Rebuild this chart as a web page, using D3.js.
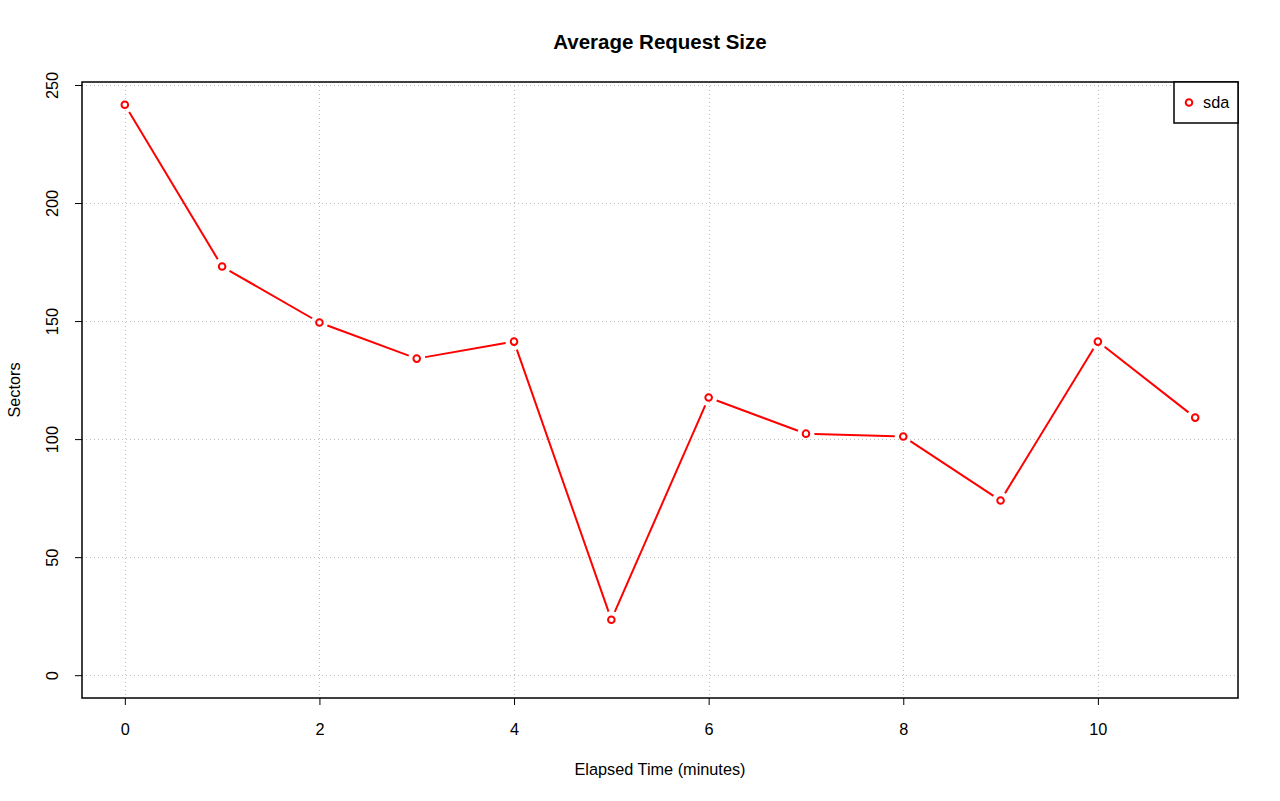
<!DOCTYPE html>
<html><head><meta charset="utf-8">
<script src="https://cdn.jsdelivr.net/npm/d3@7"></script>
<style>body{margin:0;background:#fff}svg{display:block}text{font-family:"Liberation Sans",Arial,sans-serif;fill:#000}</style>
</head><body>
<script>
const minutes = [0,1,2,3,4,5,6,7,8,9,10,11];
const sda = [241.6,173.1,149.4,134.1,141.3,23.5,117.6,102.3,101.1,74.0,141.3,109.1];
const xTicks = [0,2,4,6,8,10];
const yTicks = [0,50,100,150,200,250];
const seriesName = "sda";

const W=1280,H=801;
const L=82,R=1238,T=82,B=698;
const svg=d3.select("body").append("svg").attr("width",W).attr("height",H);
const x=d3.scaleLinear().domain([-0.44,11.44]).range([L,R]);
const yMax=d3.max(sda), pad=yMax*0.04;
const y=d3.scaleLinear().domain([-pad,yMax+pad]).range([B,T]);
const px=v=>Math.round(v)+0.5;

// grid
const g=svg.append("g").attr("shape-rendering","crispEdges");
g.selectAll("line.vg").data(xTicks).enter().append("line")
 .attr("x1",d=>px(x(d))).attr("x2",d=>px(x(d))).attr("y1",T).attr("y2",B)
 .attr("stroke","#bebebe").attr("stroke-dasharray","1,3");
g.selectAll("line.hg").data(yTicks).enter().append("line")
 .attr("y1",d=>px(y(d))).attr("y2",d=>px(y(d))).attr("x1",L).attr("x2",R)
 .attr("stroke","#bebebe").attr("stroke-dasharray","1,3");

// axes
const xa=svg.append("g").attr("transform",`translate(0,${B})`)
 .call(d3.axisBottom(x).tickValues(xTicks).tickSize(7));
const ya=svg.append("g").attr("transform",`translate(${L},0)`)
 .call(d3.axisLeft(y).tickValues(yTicks).tickSize(7));
[xa,ya].forEach(a=>{a.select(".domain").remove();a.selectAll("line").attr("stroke","#000");a.selectAll("text").style("font-size","16.3px").style("font-family","Liberation Sans, Arial, sans-serif");});
xa.selectAll(".tick text").attr("y",37).attr("dy","0");
ya.selectAll(".tick text").attr("transform","rotate(-90)").attr("x",0).attr("y",-24).attr("dy","0").attr("text-anchor","middle");

// box
svg.append("rect").attr("x",L).attr("y",T).attr("width",R-L).attr("height",B-T)
 .attr("fill","none").attr("stroke","#000").attr("stroke-width",1.5);

// line segments with gaps (type="b")
const pts=minutes.map((m,i)=>[x(m),y(sda[i])]);
const gap=8.5;
const segs=[];
for(let i=0;i<pts.length-1;i++){
  const [x1,y1]=pts[i],[x2,y2]=pts[i+1];
  const dx=x2-x1,dy=y2-y1,len=Math.hypot(dx,dy);
  if(len>2*gap){const ux=dx/len,uy=dy/len;segs.push([x1+ux*gap,y1+uy*gap,x2-ux*gap,y2-uy*gap]);}
}
svg.selectAll("line.seg").data(segs).enter().append("line")
 .attr("x1",d=>d[0]).attr("y1",d=>d[1]).attr("x2",d=>d[2]).attr("y2",d=>d[3])
 .attr("stroke","#ff0000").attr("stroke-width",2);
svg.selectAll("circle.pt").data(minutes).enter().append("circle")
 .attr("cx",(d,i)=>x(d)).attr("cy",(d,i)=>y(sda[i])).attr("r",3.3)
 .attr("fill","#fff").attr("stroke","#ff0000").attr("stroke-width",2);

// legend
svg.append("rect").attr("x",1174).attr("y",T).attr("width",R-1174).attr("height",41)
 .attr("fill","#fff").attr("stroke","#000").attr("stroke-width",1.5);
svg.append("circle").attr("cx",1189).attr("cy",102.5).attr("r",3.3)
 .attr("fill","#fff").attr("stroke","#ff0000").attr("stroke-width",2);
svg.append("text").attr("x",1203).attr("y",108).style("font-size","16.3px").text(seriesName);

// titles
svg.append("text").attr("x",(L+R)/2).attr("y",49).attr("text-anchor","middle")
 .style("font-size","20.5px").style("font-weight","bold").text("Average Request Size");
svg.append("text").attr("x",(L+R)/2).attr("y",775).attr("text-anchor","middle")
 .style("font-size","16.3px").text("Elapsed Time (minutes)");
svg.append("text").attr("transform",`translate(20,${(T+B)/2}) rotate(-90)`).attr("text-anchor","middle")
 .style("font-size","16.3px").text("Sectors");
</script>
</body></html>
